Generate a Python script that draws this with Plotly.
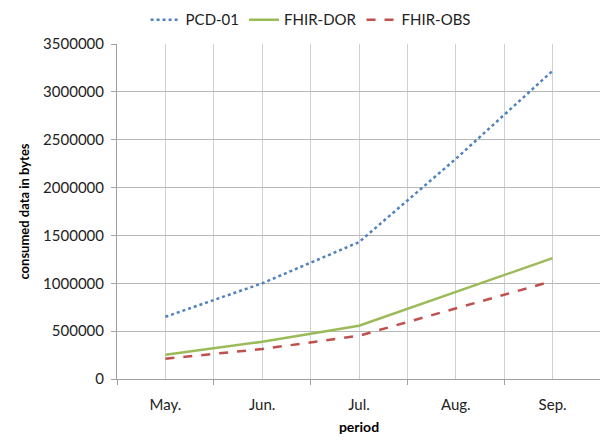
import plotly.graph_objects as go

categories = ["May.", "Jun.", "Jul.", "Aug.", "Sep."]
pcd01 = [650000, 1000000, 1430000, 2300000, 3220000]
fhir_dor = [254000, 389000, 556000, 908000, 1263000]
fhir_obs = [212000, 313000, 452000, 741000, 1023000]
y_ticks = [0, 500000, 1000000, 1500000, 2000000, 2500000, 3000000, 3500000]

xpos = list(range(len(categories)))
font = "Lato, Open Sans, Liberation Sans, sans-serif"

fig = go.Figure()
fig.add_trace(go.Scatter(x=xpos, y=pcd01, name="PCD-01", mode="lines",
                         line=dict(color="#4F81BD", width=2.5, dash="dot")))
fig.add_trace(go.Scatter(x=xpos, y=fhir_dor, name="FHIR-DOR", mode="lines",
                         line=dict(color="#9BBB59", width=2.5)))
fig.add_trace(go.Scatter(x=xpos, y=fhir_obs, name="FHIR-OBS", mode="lines",
                         line=dict(color="#C0504D", width=2.5, dash="dash")))

bounds = [i - 0.5 for i in range(len(categories) + 1)]

fig.update_layout(
    width=600, height=435,
    margin=dict(l=109, r=7, t=36, b=64, autoexpand=False),
    paper_bgcolor="white", plot_bgcolor="white",
    font=dict(family=font, size=15, color="#222222"),
    showlegend=True,
    legend=dict(orientation="h", x=0.4, xanchor="center", y=1.072, yanchor="middle",
                font=dict(size=15, color="#222222"), tracegroupgap=0,
                bgcolor="rgba(0,0,0,0)"),
    xaxis=dict(range=[-0.5, len(categories) - 0.5], tickmode="array", tickvals=xpos,
               ticktext=categories, showgrid=True, gridcolor="#d0d0d0", gridwidth=1,
               ticks="", showline=True, linecolor="#a0a0a0", linewidth=1, zeroline=False,
               ticklabelstandoff=12,
               minor=dict(tickmode="array", tickvals=bounds, showgrid=True, gridcolor="#d0d0d0",
                          ticks="outside", ticklen=5, tickcolor="#a0a0a0"),
               title=dict(text="<b>period</b>", font=dict(size=14, color="#000000"), standoff=10)),
    yaxis=dict(range=[0, 3500000], tickmode="array", tickvals=y_ticks,
               ticktext=[str(v) for v in y_ticks], showgrid=True, gridcolor="#b8b8b8",
               gridwidth=1, ticks="outside", ticklen=5, tickcolor="#a0a0a0",
               showline=True, linecolor="#a0a0a0", linewidth=1, zeroline=False,
               ticklabelstandoff=4,
               title=dict(text="<b>consumed data in bytes</b>", font=dict(size=13, color="#000000"),
                          standoff=10)),
)

fig.write_html("out.html")
